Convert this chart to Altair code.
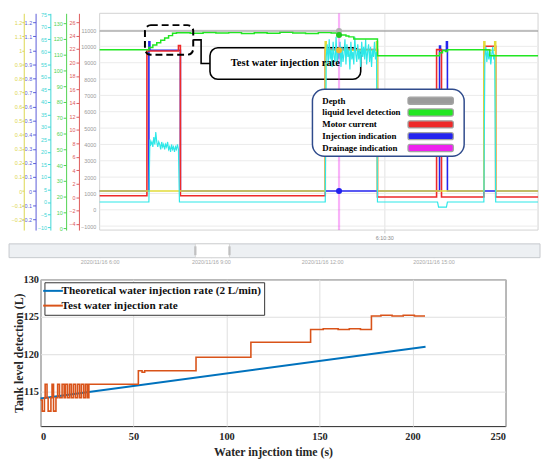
import altair as alt
import pandas as pd

# ======================= TOP PANEL: monitoring trend view =======================
TOP_T_VIEW = [-60, 445]           # view range (left part holds the stacked axes)
TOP_T_RANGE = [0, 445]            # seconds shown in the trend window
TIME_LABEL_T = 289                # position of the "6:10:30" time tick
TIME_LABEL = "6:10:30"
CURSOR_T = 243                    # drainage-indication cursor

# axis domains of the stacked left axes
DOM_GRAY = [-1241, 12024]
DOM_RED = [-4.9, 27.3]
DOM_GREEN = [-1.25, 136.25]
DOM_CYAN = [-11.2, 75.4]
DOM_BIN = [-0.277, 1.263]
DOM_ROW = [-7.39, 10.94]          # legend rows (0 = first entry)

TICKS_GRAY = list(range(-1000, 11001, 1000))
TICKS_RED = list(range(-4, 27, 2))
TICKS_GREEN = list(range(0, 131, 10))
TICKS_CYAN = list(range(-10, 76, 5))
TICKS_BIN = [-0.2, -0.1, 0, 0.1, 0.2, 0.3, 0.4, 0.5, 0.6, 0.7, 0.8, 0.9, 1, 1.1, 1.2]

# series (time in s, value on own axis)
DEPTH_T = [0, 445]
DEPTH_V = [10940, 10940]

LEVEL_T = [0, 50, 54, 58, 62, 66, 70, 74, 78, 92, 105, 118, 131, 144, 157, 170, 183,
           196, 209, 222, 235, 243, 250, 253, 258, 282, 345, 348, 351, 353, 396, 445]
LEVEL_V = [113.1, 114.6, 116.1, 117.6, 119.1, 120.6, 122.1, 123.6, 123.9, 123.6, 124.1,
           123.7, 124.0, 123.5, 123.9, 123.6, 124.2, 123.8, 123.5, 124.0, 123.7, 122.5,
           121.9, 121.3, 120.0, 109.4, 111.2, 112.6, 112.0, 113.1, 109.4, 109.4]

MOTOR_T = [0, 48, 80, 82, 229, 282, 342, 347, 390, 402, 445]
MOTOR_V = [0.2, 21.7, 22.5, 0.2, 21.9, 0.0, 21.9, 0.0, 22.4, 0.0, 0.0]

INJ_T = [0, 50, 51, 82, 345, 346, 352, 353, 445]
INJ_V = [0, 1.06, 1.0, 0, 1.03, 1.0, 1.06, 0, 0]

AUXY_T = [0, 229, 230, 281, 282, 390, 391, 401, 402, 445]
AUXY_V = [0, 1.06, 1.0, 1.06, 0, 1.06, 1.0, 1.06, 0, 0]

CYAN_EV1 = [25, 23, 24, 22, 26, 23, 28, 24, 22, 24, 23, 21, 24, 22, 23, 21, 23, 22, 24, 21,
            22, 20, 23, 21, 22, 20, 22, 21, 23, 21]
CYAN_EV2 = [58, 63, 55, 65, 57, 61, 54, 64, 58, 56, 66, 55, 60, 57, 64, 54, 62, 56, 59, 65,
            55, 63, 58, 61, 53, 64, 57, 60, 55, 66, 59, 56, 63, 57, 61, 54, 64, 58, 62, 57,
            65, 55, 60, 63, 56, 62, 54, 61, 58, 64, 57, 60]
CYAN_EV4 = [58, 62, 56, 61, 57, 60, 55, 59, 62, 57, 59]
CYAN_T = ([0, 50] + list(range(51, 81)) + [81, 229] + list(range(230, 282)) +
          [282, 343, 344, 352, 353, 390] + list(range(391, 402)) + [402, 445])
CYAN_V = ([0, 0] + CYAN_EV1 + [0, 0] + CYAN_EV2 + [0, 0, -2, -2, 0, 0] + CYAN_EV4 + [0, 0])

CURSOR_DEPTH, CURSOR_LEVEL, CURSOR_AUXY, CURSOR_INJ = 10940, 122.5, 1.0, 0.0

LEG_NAMES = ["Depth", "liquid level detection", "Motor current",
             "Injection indication", "Drainage indication"]
LEG_COLORS = ["#9a9a9a", "#22e622", "#ee2a2a", "#2424ee", "#ee22ee"]
AUXY_COLOR = "#e2dc3a"
CYAN_COLOR = "#2ee8e8"

# legend box layout (time units / row units)
LEG_BOX = dict(t=[216], t2=[370], r=[-0.97], r2=[4.69])
LEG_TEXT_T = 226
LEG_SWATCH_T = [313, 359]
LEG_SWATCH_HALF = 0.3

# annotation (time / depth-axis units)
DASH_BOX = dict(t=[46], t2=[95], v=[11301], v2=[9494])
TEXT_BOX = dict(t=[112], t2=[265], v=[9916], v2=[7988])
CONNECT_T = [95, 103, 103, 112]
CONNECT_V = [10398, 10398, 8952, 8952]
ANNOT_TEXT = "Test water injection rate"
ANNOT_POS = dict(t=[188.5], v=[8952])

# ======================= STRIP (overview time bar) =======================
STRIP_VIEW = [4.408, 17.87]          # hours on 2020/11/16 (view)
STRIP_BAND = [3.56, 17.87]           # full bar
STRIP_TICKS = [6, 9, 12, 15]
WINDOW = [8.58, 9.5]

# ======================= BOTTOM PANEL =======================
THEORY_T = [0, 207]
THEORY_V = [114.1, 121.0]
TEST_T = [0, 0.9, 2.1, 2.5, 3.5, 4.1, 5.6, 6.2, 7.0, 8.3, 9.2, 10.2, 11.6, 12.7, 13.4,
          14.5, 15.6, 16.6, 17.7, 18.8, 19.9, 21.0, 22.0, 23.2, 24.2, 25.2, 26.0, 27.4,
          52.6, 54.6, 56.0, 83.6, 113.1, 145.2, 152.0, 160.0, 166.0, 172.0, 177.9, 183.0,
          189.0, 195.0, 201.0, 206.7]
TEST_V = [113.9, 112.4, 114.2, 116.0, 114.2, 112.4, 114.2, 116.0, 112.4, 114.2, 116.0,
          114.2, 116.0, 114.2, 116.0, 114.2, 116.0, 114.2, 116.0, 114.2, 116.0, 114.2,
          116.0, 114.2, 116.0, 114.2, 116.0, 116.0, 117.8, 117.6, 117.8, 119.6, 121.6,
          123.3, 123.4, 123.3, 123.4, 123.3, 125.1, 125.2, 125.1, 125.2, 125.1, 125.1]
BOT_NAMES = ["Theoretical water injection rate (2 L/min)", "Test water injection rate"]
BOT_COLORS = ["#0072BD", "#D95319"]
BOT_X_TICKS = [0, 50, 100, 150, 200, 250]
BOT_Y_TICKS = [115, 120, 125, 130]
BOT_X_DOM = [0, 250]
BOT_Y_DOM = [110.4, 130]

SERIF = "Liberation Serif"
SANS = "Liberation Sans"


def series_df(t, v, name):
    return pd.DataFrame({"t": t, "v": v, "s": name, "i": list(range(len(t)))})


# ---------------- top panel ----------------
TOP_XAXIS = alt.Axis(values=[TIME_LABEL_T], labelExpr="'" + TIME_LABEL + "'", title=None,
                     labelFontSize=5.5, labelColor="#8a8a8a", labelFont=SANS,
                     tickSize=3, tickColor="#c8c8c8", domain=False,
                     grid=True, gridColor="#e3e3e3", labelPadding=3)
X_TOP = alt.X("t:Q", scale=alt.Scale(domain=TOP_T_VIEW, nice=False, zero=False), axis=TOP_XAXIS)


def side_axis(values, color, offset, fmt="d", tick=3, pad=1):
    return alt.Axis(orient="left", offset={"expr": str(offset)}, values=values, title=None,
                    format=fmt, labelFontSize=5.5, labelFont=SANS, labelColor=color,
                    tickColor=color, domainColor=color, tickSize=tick, labelPadding=pad,
                    labelFlush=True, grid=False)


AX_GRAY = alt.Axis(orient="left", offset={"expr": "-59"}, values=TICKS_GRAY, title=None,
                   format="d", labelFontSize=5.5, labelFont=SANS, labelColor="#9a9a9a",
                   domain=False, ticks=False, grid=False, labelPadding=3)
AX_RED = side_axis(TICKS_RED, "#dd5a5a", -39)
AX_GREEN = side_axis(TICKS_GREEN, "#4fd24f", -26)
AX_CYAN = side_axis(TICKS_CYAN, "#3fd6d6", -10)
AX_BLUE = side_axis(TICKS_BIN, "#5a5ad8", 5, ".1~f")
AX_YEL = side_axis(TICKS_BIN, "#dcd650", 17, ".1~f", tick=2, pad=0)


def yenc(dom, axis=None, field="v", reverse=False):
    return alt.Y(field + ":Q", scale=alt.Scale(domain=dom, nice=False, zero=False,
                                               reverse=reverse), axis=axis)


COLOR_TOP = alt.Color("s:N", scale=alt.Scale(domain=LEG_NAMES, range=LEG_COLORS), legend=None)

frame = alt.Chart(pd.DataFrame({"t": [TOP_T_RANGE[0]], "t2": [TOP_T_RANGE[1]],
                                "v": [DOM_GRAY[0]], "v2": [DOM_GRAY[1]]})).mark_rect(
    fillOpacity=0, stroke="#d2d2d2", strokeWidth=1).encode(
    x=X_TOP, x2="t2:Q", y=yenc(DOM_GRAY), y2="v2:Q")
grid = alt.Chart(pd.DataFrame({"v": TICKS_GRAY, "t": TOP_T_RANGE[0],
                               "t2": TOP_T_RANGE[1]})).mark_rule(
    color="#ebebeb", strokeWidth=1).encode(x=X_TOP, x2="t2:Q", y=yenc(DOM_GRAY, AX_GRAY))

box_text = alt.Chart(pd.DataFrame(TEXT_BOX)).mark_rect(
    fill="white", stroke="black", strokeWidth=1.6, cornerRadius=8).encode(
    x=X_TOP, x2="t2:Q", y=yenc(DOM_GRAY), y2="v2:Q")

l_inj = alt.Chart(series_df(INJ_T, INJ_V, LEG_NAMES[3])).mark_line(
    interpolate="step-after", strokeWidth=1.6).encode(
    x=X_TOP, y=yenc(DOM_BIN, AX_BLUE), color=COLOR_TOP, order="i:Q")
l_motor = alt.Chart(series_df(MOTOR_T, MOTOR_V, LEG_NAMES[2])).mark_line(
    interpolate="step-after", strokeWidth=1.6).encode(
    x=X_TOP, y=yenc(DOM_RED, AX_RED), color=COLOR_TOP, order="i:Q")
l_auxy = alt.Chart(series_df(AUXY_T, AUXY_V, "aux")).mark_line(
    interpolate="step-after", strokeWidth=1.6, color=AUXY_COLOR).encode(
    x=X_TOP, y=yenc(DOM_BIN, AX_YEL), order="i:Q")
l_cyan = alt.Chart(series_df(CYAN_T, CYAN_V, "aux2")).mark_line(
    strokeWidth=1.2, color=CYAN_COLOR).encode(
    x=X_TOP, y=yenc(DOM_CYAN, AX_CYAN), order="i:Q")
l_level = alt.Chart(series_df(LEVEL_T, LEVEL_V, LEG_NAMES[1])).mark_line(
    interpolate="step-after", strokeWidth=1.5).encode(
    x=X_TOP, y=yenc(DOM_GREEN, AX_GREEN), color=COLOR_TOP, order="i:Q")
l_depth = alt.Chart(series_df(DEPTH_T, DEPTH_V, LEG_NAMES[0])).mark_line(
    strokeWidth=1.5, opacity=0.8).encode(
    x=X_TOP, y=yenc(DOM_GRAY), color=COLOR_TOP, order="i:Q")
l_rule = alt.Chart(pd.DataFrame({"t": [CURSOR_T], "s": [LEG_NAMES[4]]})).mark_rule(
    strokeWidth=2.2, opacity=0.35).encode(x=X_TOP, color=COLOR_TOP)


def dot(val, dom, color):
    return alt.Chart(pd.DataFrame({"t": [CURSOR_T], "v": [val]})).mark_circle(
        size=38, color=color, opacity=1).encode(x=X_TOP, y=yenc(dom))


d_depth = dot(CURSOR_DEPTH, DOM_GRAY, "#b0b0b0")
d_level = dot(CURSOR_LEVEL, DOM_GREEN, "#1fc81f")
d_auxy = dot(CURSOR_AUXY, DOM_BIN, "#f2b630")
d_inj = dot(CURSOR_INJ, DOM_BIN, "#2222ee")

dash_box = alt.Chart(pd.DataFrame(DASH_BOX)).mark_rect(
    fillOpacity=0, stroke="black", strokeWidth=2, strokeDash=[7, 4], cornerRadius=6).encode(
    x=X_TOP, x2="t2:Q", y=yenc(DOM_GRAY), y2="v2:Q")
connector = alt.Chart(pd.DataFrame({"t": CONNECT_T, "v": CONNECT_V,
                                    "i": list(range(len(CONNECT_T)))})).mark_line(
    color="black", strokeWidth=1.6).encode(x=X_TOP, y=yenc(DOM_GRAY), order="i:Q")
annot = alt.Chart(pd.DataFrame({"t": ANNOT_POS["t"], "v": ANNOT_POS["v"],
                                "txt": [ANNOT_TEXT]})).mark_text(
    font=SERIF, fontWeight="bold", fontSize=10.7, color="black").encode(
    x=X_TOP, y=yenc(DOM_GRAY), text="txt:N")

# custom legend box (rows on their own scale)
leg_rows = pd.DataFrame({"s": LEG_NAMES, "r": list(range(len(LEG_NAMES)))})
leg_rows["lo"] = leg_rows["r"] - LEG_SWATCH_HALF
leg_rows["hi"] = leg_rows["r"] + LEG_SWATCH_HALF
leg_rows["t"] = LEG_SWATCH_T[0]
leg_rows["t2"] = LEG_SWATCH_T[1]
leg_rows["tt"] = LEG_TEXT_T
leg_box = alt.Chart(pd.DataFrame(LEG_BOX)).mark_rect(
    fill="white", stroke="#2f4b8c", strokeWidth=1.5, cornerRadius=12).encode(
    x=X_TOP, x2="t2:Q", y=yenc(DOM_ROW, field="r", reverse=True), y2="r2:Q")
leg_sw = alt.Chart(leg_rows).mark_rect(stroke="#a3a3a3", strokeWidth=1.3, cornerRadius=2).encode(
    x=X_TOP, x2="t2:Q", y=yenc(DOM_ROW, field="lo", reverse=True), y2="hi:Q",
    fill=alt.Fill("s:N", scale=alt.Scale(domain=LEG_NAMES, range=LEG_COLORS), legend=None))
leg_txt = alt.Chart(leg_rows).mark_text(
    font=SERIF, fontWeight="bold", fontSize=9, color="black", align="left",
    baseline="middle").encode(
    x=alt.X("tt:Q", scale=alt.Scale(domain=TOP_T_VIEW, nice=False, zero=False), axis=TOP_XAXIS),
    y=yenc(DOM_ROW, field="r", reverse=True), text="s:N")

top = alt.layer(frame, grid, box_text, l_inj, l_motor, l_auxy, l_cyan, l_level, l_depth,
                l_rule, d_depth, d_level, d_auxy, d_inj, dash_box, connector, annot,
                leg_box, leg_sw, leg_txt).resolve_scale(y="independent").properties(
    width=505, height=220, view=alt.ViewBackground(stroke="transparent", fill="white"))

# ---------------- overview strip ----------------
STRIP_AXIS = alt.Axis(values=STRIP_TICKS, labelExpr="'2020/11/16 ' + datum.value + ':00'",
                      title=None, labelFontSize=5.5, labelFont=SANS, labelColor="#a8a8a8",
                      ticks=False, domain=False, grid=True, gridColor="#d6dadf",
                      labelPadding=2)
X_STRIP = alt.X("a:Q", scale=alt.Scale(domain=STRIP_VIEW, nice=False, zero=False),
                axis=STRIP_AXIS)
strip_band = alt.Chart(pd.DataFrame({"a": [STRIP_BAND[0]], "b": [STRIP_BAND[1]]})).mark_rect(
    fill="#edf0f3", stroke="#c6c9cd", strokeWidth=1).encode(x=X_STRIP, x2="b:Q")
strip_win = alt.Chart(pd.DataFrame({"a": [WINDOW[0]], "b": [WINDOW[1]]})).mark_rect(
    fill="white", stroke="#cfcfcf", strokeWidth=0.8).encode(x=X_STRIP, x2="b:Q")
strip_handles = alt.Chart(pd.DataFrame({"a": WINDOW})).mark_tick(
    color="#b5b5b5", thickness=2.5, size=9).encode(x=X_STRIP)
strip = alt.layer(strip_band, strip_win, strip_handles).properties(
    width=507, height=14, view=alt.ViewBackground(fill="transparent", stroke="transparent"))

# ---------------- bottom panel ----------------
BOT_XAXIS = alt.Axis(values=BOT_X_TICKS, title="Water injection time (s)", grid=True,
                     gridColor="#dedede", ticks=False, domain=False, labelFont=SERIF,
                     labelFontWeight="bold", labelFontSize=10.5, labelColor="#262626",
                     titleFont=SERIF, titleFontWeight="bold", titleFontSize=12,
                     titleColor="#262626", labelPadding=6, titlePadding=4)
BOT_YAXIS = alt.Axis(values=BOT_Y_TICKS, title="Tank level detection (L)", grid=True,
                     gridColor="#dedede", ticks=False, domain=False, labelFont=SERIF,
                     labelFontWeight="bold", labelFontSize=10.5, labelColor="#262626",
                     titleFont=SERIF, titleFontWeight="bold", titleFontSize=12,
                     titleColor="#262626", labelPadding=2, titlePadding={"expr": "-2"})
BOT_LEGEND = alt.Legend(title=None, orient="none", legendX=4, legendY=3, fillColor="white",
                        strokeColor="#333333", padding=3, labelFont=SERIF,
                        labelFontWeight="bold", labelFontSize=11.4, labelColor="#111111",
                        labelLimit=400, symbolType="M-5,0H5", symbolSize=16,
                        symbolStrokeWidth=2, labelOffset=3, rowPadding=2)
COLOR_BOT = alt.Color("s:N", scale=alt.Scale(domain=BOT_NAMES, range=BOT_COLORS),
                      legend=BOT_LEGEND)
X_BOT = alt.X("t:Q", scale=alt.Scale(domain=BOT_X_DOM, nice=False, zero=False), axis=BOT_XAXIS)
Y_BOT = alt.Y("v:Q", scale=alt.Scale(domain=BOT_Y_DOM, nice=False, zero=False), axis=BOT_YAXIS)

b_theory = alt.Chart(series_df(THEORY_T, THEORY_V, BOT_NAMES[0])).mark_line(
    strokeWidth=2).encode(x=X_BOT, y=Y_BOT, color=COLOR_BOT, order="i:Q")
b_test = alt.Chart(series_df(TEST_T, TEST_V, BOT_NAMES[1])).mark_line(
    interpolate="step-after", strokeWidth=1.6).encode(x=X_BOT, y=Y_BOT, color=COLOR_BOT,
                                                      order="i:Q")
bottom = alt.layer(b_theory, b_test).properties(
    width=472, height=149, view=alt.ViewBackground(stroke="#262626", strokeWidth=1, fill="white"))

upper = alt.vconcat(top, strip, spacing=1).resolve_scale(
    color="independent", x="independent").resolve_legend(color="independent")
chart = alt.vconcat(upper, bottom, spacing=8).resolve_scale(
    color="independent", x="independent", y="independent").resolve_legend(
    color="independent").properties(
    padding={"left": 0, "top": 0, "right": 0, "bottom": 0}, background="white")

chart.save("out.html", embed_options={"renderer": "svg", "actions": False})
